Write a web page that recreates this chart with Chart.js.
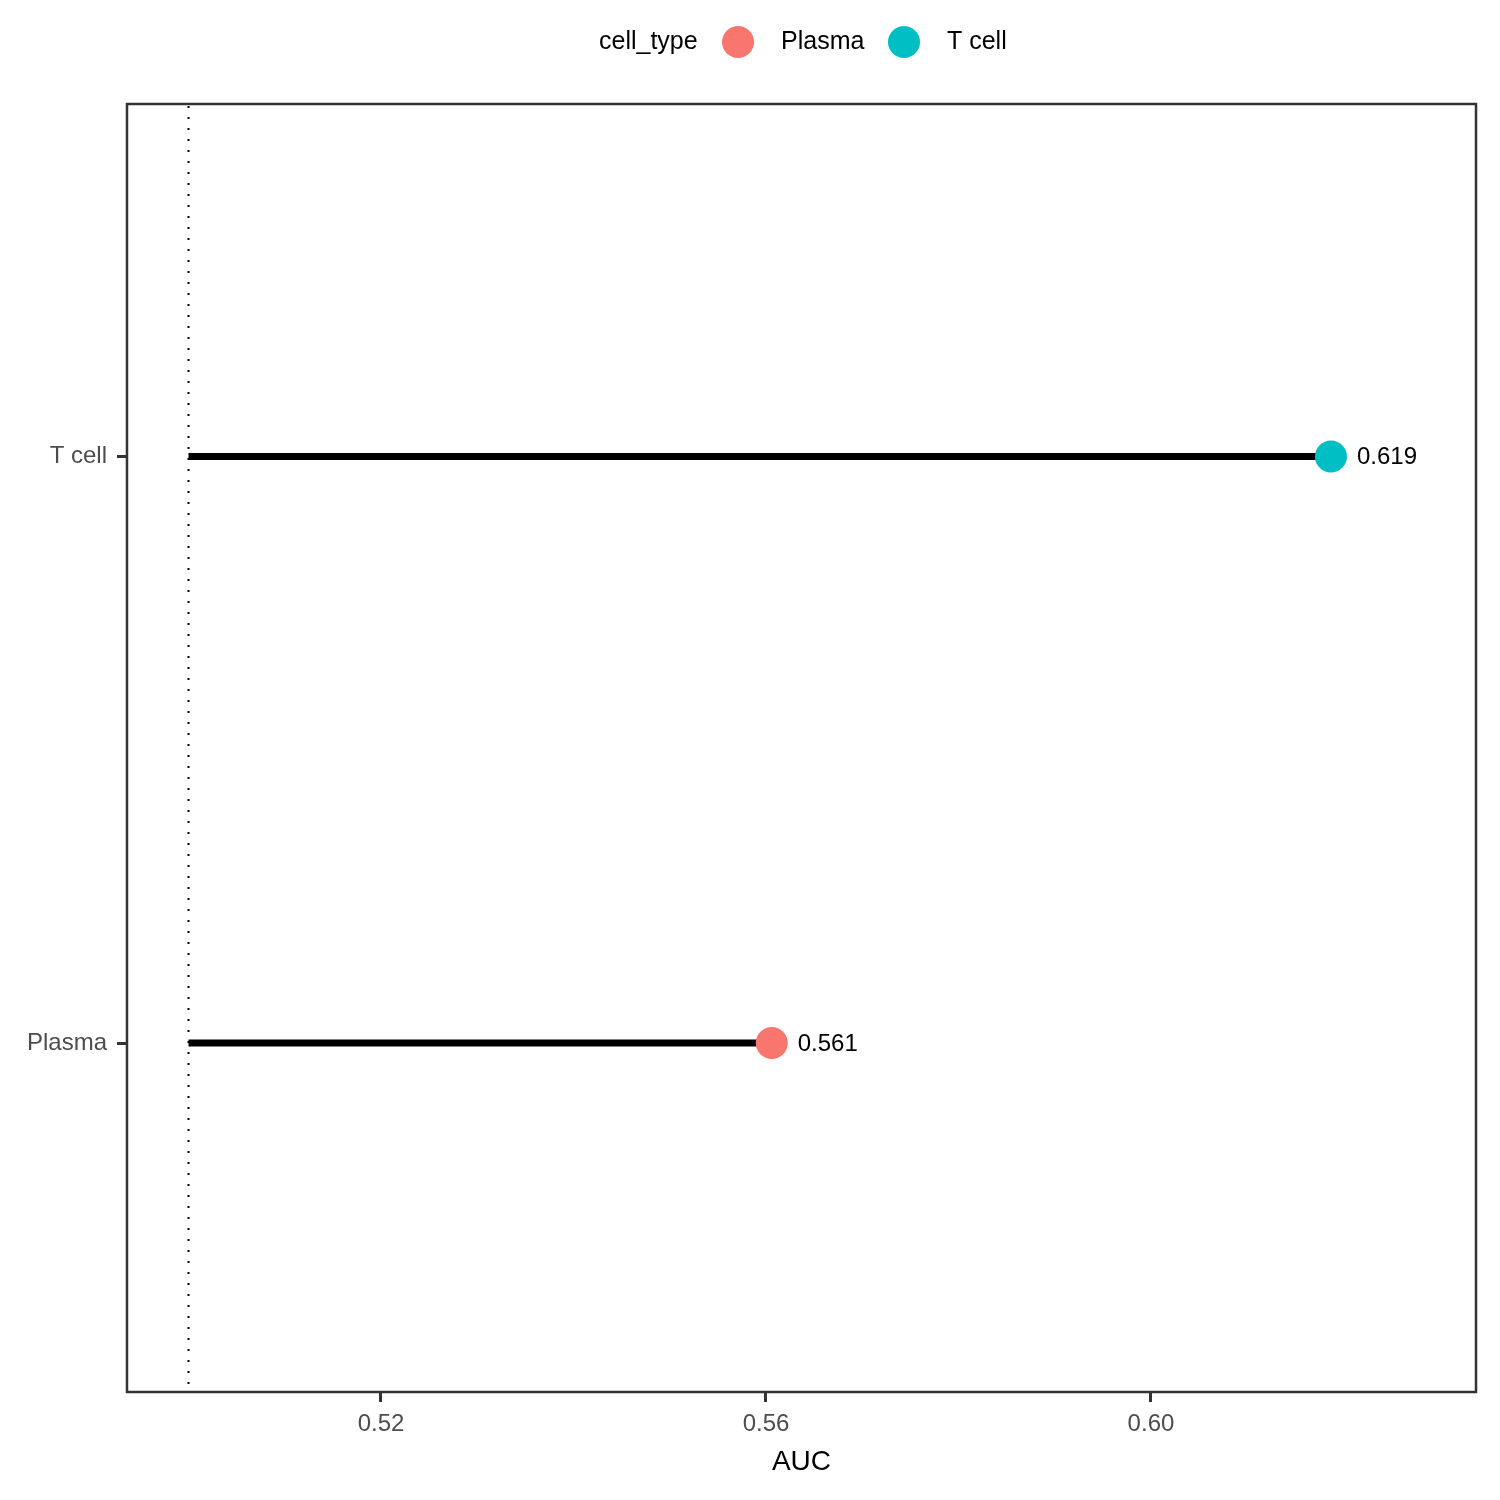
<!DOCTYPE html>
<html lang="en">
<head>
  <meta charset="UTF-8">
  <title>AUC by cell type</title>
  <script src="https://cdn.jsdelivr.net/npm/chart.js"></script>
  <style>
    html, body { margin: 0; padding: 0; background: #FFFFFF; }
    #wrap { width: 1500px; height: 1500px; }
  </style>
</head>
<body>
  <div id="wrap"><canvas id="grafico" width="1500" height="1500"></canvas></div>

  <script>
    // data
    const cellTypes = ["Plasma", "T cell"];
    const aucValues = [0.5606, 0.6187];
    const xTicks = [0.52, 0.56, 0.60];
    const baseline = 0.5;
    const cores = ["#F8766D", "#00BFC4"];

    const fonte = "'Liberation Sans', Arial, sans-serif";

    // one dataset per lollipop stick
    const hastes = cellTypes.map((c, i) => ({
      type: "line",
      data: [{ x: baseline, y: i + 1 }, { x: aucValues[i], y: i + 1 }],
      borderColor: "#000000",
      borderWidth: 7,
      pointRadius: 0,
      order: 2
    }));

    const linhaBase = {
      type: "line",
      data: [{ x: baseline, y: 0.4 }, { x: baseline, y: 2.61 }],
      borderColor: "#000000",
      borderWidth: 2,
      borderDash: [2, 9],
      pointRadius: 0,
      order: 3
    };

    const pontos = {
      type: "scatter",
      data: cellTypes.map((c, i) => ({ x: aucValues[i], y: i + 1 })),
      backgroundColor: cores,
      borderWidth: 0,
      pointRadius: 16,
      order: 1
    };

    const extras = {
      id: "extras",
      afterDatasetsDraw(chart) {
        const ctx = chart.ctx;
        const a = chart.chartArea;
        const xs = chart.scales.x, ys = chart.scales.y;
        ctx.save();
        // value labels
        ctx.fillStyle = "#000000";
        ctx.font = "24px " + fonte;
        ctx.textAlign = "left";
        ctx.textBaseline = "middle";
        aucValues.forEach((v, i) => {
          ctx.fillText(v.toFixed(3), xs.getPixelForValue(v) + 26, ys.getPixelForValue(i + 1) + 1);
        });
        // panel border
        ctx.strokeStyle = "#333333";
        ctx.lineWidth = 2.5;
        ctx.strokeRect(a.left, a.top, a.right - a.left, a.bottom - a.top);
        // axis title
        ctx.fillStyle = "#000000";
        ctx.font = "28px " + fonte;
        ctx.textAlign = "center";
        ctx.fillText("AUC", (a.left + a.right) / 2, 1462);
        // legend
        ctx.font = "25px " + fonte;
        ctx.textAlign = "left";
        ctx.fillText("cell_type", 599, 42);
        const lx = [738, 904];
        cellTypes.forEach((c, i) => {
          ctx.fillStyle = cores[i];
          ctx.beginPath();
          ctx.arc(lx[i], 42, 16, 0, Math.PI * 2);
          ctx.fill();
          ctx.fillStyle = "#000000";
          ctx.fillText(c, lx[i] + 43, 42);
        });
        ctx.restore();
      }
    };

    new Chart(document.getElementById("grafico"), {
      type: "scatter",
      data: { datasets: [...hastes, linhaBase, pontos] },
      options: {
        responsive: false,
        animation: false,
        layout: { padding: { top: 104, right: 24, left: 0, bottom: 0 } },
        plugins: { legend: { display: false }, tooltip: { enabled: false } },
        scales: {
          x: {
            type: "linear",
            min: 0.49361,
            max: 0.63377,
            afterBuildTicks(s) { s.ticks = xTicks.map(v => ({ value: v })); },
            afterFit(s) { s.height = 108; },
            ticks: {
              color: "#4D4D4D",
              font: { family: fonte, size: 24 },
              padding: 8,
              callback: v => v.toFixed(2)
            },
            grid: { drawOnChartArea: false, tickLength: 10, color: "#333333", lineWidth: 3 },
            border: { display: false }
          },
          y: {
            type: "linear",
            min: 0.405,
            max: 2.601,
            afterBuildTicks(s) { s.ticks = cellTypes.map((c, i) => ({ value: i + 1 })); },
            afterFit(s) { s.width = 127; },
            ticks: {
              color: "#4D4D4D",
              font: { family: fonte, size: 24 },
              padding: 10,
              callback: v => cellTypes[v - 1]
            },
            grid: { drawOnChartArea: false, tickLength: 10, color: "#333333", lineWidth: 3 },
            border: { display: false }
          }
        }
      },
      plugins: [extras]
    });
  </script>
</body>
</html>
